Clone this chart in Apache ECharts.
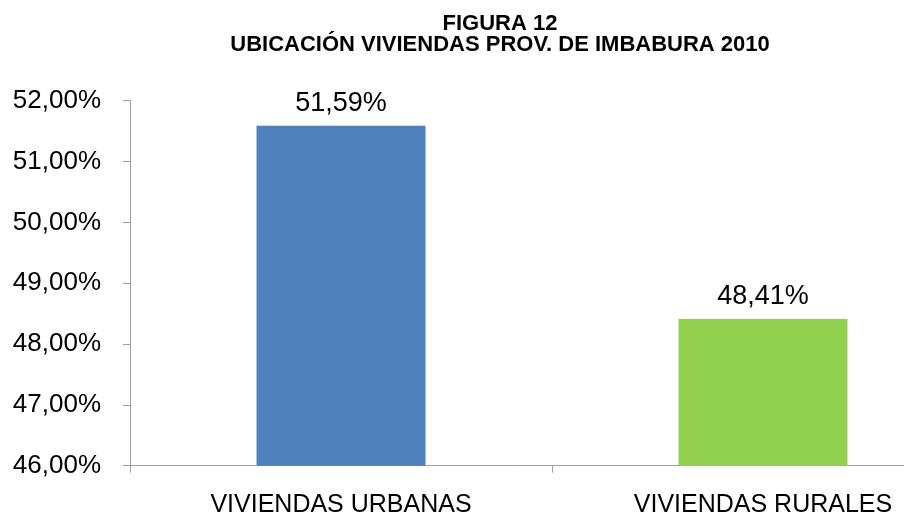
<!DOCTYPE html>
<html>
<head>
<meta charset="utf-8">
<script src="https://cdn.jsdelivr.net/npm/echarts@6/dist/echarts.min.js"></script>
<style>
  html, body { margin: 0; padding: 0; background: #fff; }
  #chart { width: 904px; height: 515px; }
</style>
</head>
<body>
<div id="chart"></div>
<script>
const categories = ['VIVIENDAS URBANAS', 'VIVIENDAS RURALES'];
const values = [51.59, 48.41];
const barColors = ['#4f81bd', '#92d050'];
const titleLines = ['FIGURA 12', 'UBICACIÓN VIVIENDAS PROV. DE IMBABURA 2010'];

const pct = v => v.toFixed(2).replace('.', ',') + '%';

const chart = echarts.init(document.getElementById('chart'));
chart.setOption({
  animation: false,
  textStyle: { fontFamily: 'Liberation Sans, Arial, sans-serif' },
  title: {
    text: titleLines.join('\n'),
    left: 495,
    top: 8,
    textAlign: 'center',
    textStyle: { fontSize: 22, fontWeight: 'bold', color: '#000', lineHeight: 21 }
  },
  grid: { left: 130, top: 100.7, width: 844, height: 365, outerBoundsMode: 'none', containLabel: false },
  xAxis: {
    type: 'category',
    data: categories,
    axisLine: { lineStyle: { color: '#a0a0a0', width: 1 } },
    axisTick: { show: true, length: 7, lineStyle: { color: '#a0a0a0' } },
    axisLabel: { color: '#000', fontSize: 25, margin: 27 }
  },
  yAxis: {
    type: 'value',
    min: 46,
    max: 52,
    interval: 1,
    axisLine: { show: true, lineStyle: { color: '#a0a0a0', width: 1 } },
    axisTick: { show: true, length: 7, lineStyle: { color: '#a0a0a0' } },
    splitLine: { show: false },
    axisLabel: { color: '#000', fontSize: 26, margin: 29, formatter: pct }
  },
  series: [{
    type: 'bar',
    barWidth: 169,
    data: values.map((v, i) => ({ value: v, itemStyle: { color: barColors[i] } })),
    label: {
      show: true,
      position: 'top',
      distance: 9,
      color: '#000',
      fontSize: 27,
      formatter: p => pct(p.value)
    }
  }]
});
</script>
</body>
</html>
